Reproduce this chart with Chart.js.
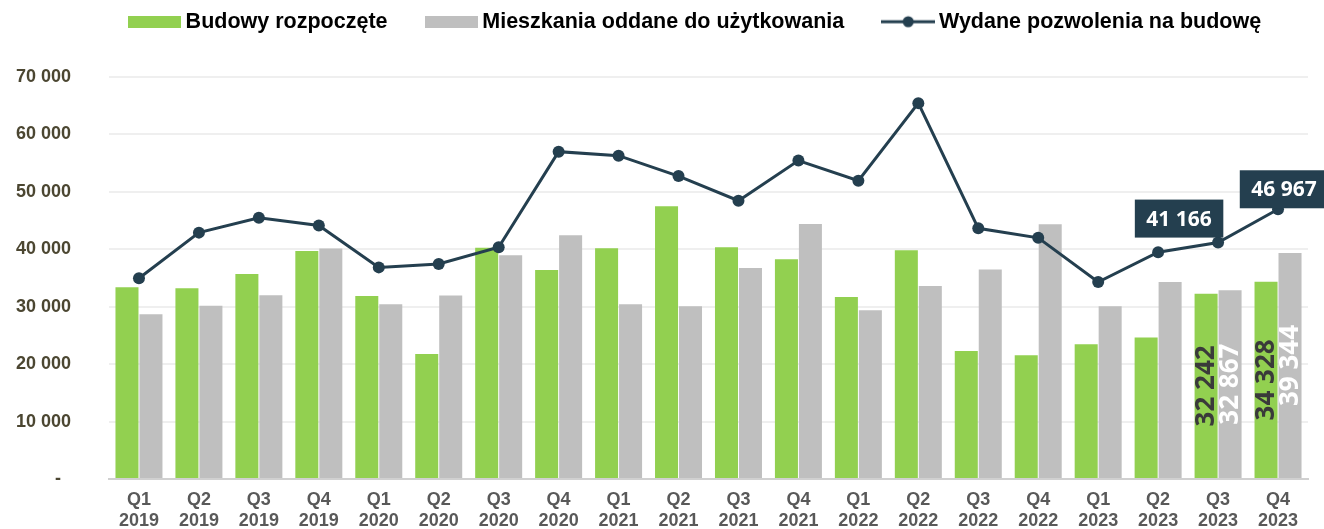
<!DOCTYPE html>
<html lang="pl">
<head>
<meta charset="utf-8">
<title>Budowy rozpoczęte, mieszkania oddane, pozwolenia</title>
<script src="https://cdn.jsdelivr.net/npm/chart.js@4.4.0/dist/chart.umd.min.js"></script>
<style>
    html, body { margin: 0; padding: 0; background: #ffffff; }
    canvas { display: block; }
</style>
</head>
<body>
<canvas id="wykres" width="1324" height="529"></canvas>
<script>
// dane (kwartalnie, 2019-2023)
const kwartaly = ['Q1', 'Q2', 'Q3', 'Q4', 'Q1', 'Q2', 'Q3', 'Q4', 'Q1', 'Q2', 'Q3', 'Q4', 'Q1', 'Q2', 'Q3', 'Q4', 'Q1', 'Q2', 'Q3', 'Q4'];
const lata = ['2019', '2019', '2019', '2019', '2020', '2020', '2020', '2020', '2021', '2021', '2021', '2021', '2022', '2022', '2022', '2022', '2023', '2023', '2023', '2023'];
const budowyRozpoczete = [33400, 33200, 35700, 39700, 31850, 21750, 40250, 36400, 40200, 47500, 40350, 38250, 31700, 39850, 22300, 21550, 23450, 24650, 32242, 34328];
const mieszkaniaOddane = [28700, 30150, 32000, 40150, 30450, 31950, 38950, 42450, 30450, 30100, 36750, 44400, 29400, 33600, 36500, 44350, 30100, 34300, 32867, 39344];
const pozwolenia = [34950, 42900, 45500, 44150, 36850, 37450, 40350, 57000, 56300, 52750, 48450, 55450, 51950, 65450, 43650, 42000, 34300, 39500, 41166, 46967];
const osY = { min: 0, max: 70000, krok: 10000 };
const podpisaneKwartaly = [18, 19]; // Q3 i Q4 2023

const ZIELONY = '#92d050';
const SZARY = '#bfbfbf';
const GRANAT = '#243f4f';

function formatuj(v) {
    return String(Math.round(v)).replace(/\B(?=(\d{3})+(?!\d))/g, ' ');
}

function ikonaProstokat(kolor) {
    const c = document.createElement('canvas');
    c.width = 53; c.height = 12;
    const g = c.getContext('2d');
    g.fillStyle = kolor;
    g.fillRect(0, 0, 53, 12);
    return c;
}

function ikonaLinia(kolor) {
    const c = document.createElement('canvas');
    c.width = 54; c.height = 14;
    const g = c.getContext('2d');
    g.strokeStyle = kolor;
    g.lineWidth = 3;
    g.beginPath(); g.moveTo(0, 7); g.lineTo(54, 7); g.stroke();
    g.fillStyle = kolor;
    g.beginPath(); g.arc(27, 7, 5.5, 0, Math.PI * 2); g.fill();
    return c;
}

const ikonyLegendy = [ikonaProstokat(ZIELONY), ikonaProstokat(SZARY), ikonaLinia(GRANAT)];

// podpisy: pionowe na słupkach i ramki przy linii
const podpisyPlugin = {
    id: 'podpisy',
    beforeLayout(chart) {
        const legenda = chart.legend;
        if (legenda && !legenda._poprawiona) {
            const staryFit = legenda.fit;
            legenda.fit = function() {
                staryFit.call(this);
                this.height = 77;
            };
            legenda._poprawiona = true;
        }
    },
    afterLayout(chart) {
        const legenda = chart.legend;
        legenda.left += 36;
        legenda.right += 36;
        legenda.top -= 33;
    },
    afterDatasetsDraw(chart) {
        const ctx = chart.ctx;
        ctx.save();
        // słupki
        [[0, '#3a3a3a'], [1, '#ffffff']].forEach(([ds, kolor]) => {
            const meta = chart.getDatasetMeta(ds);
            podpisaneKwartaly.forEach(i => {
                const el = meta.data[i];
                const wartosc = chart.data.datasets[ds].data[i];
                ctx.save();
                ctx.translate(el.x, (el.y + el.base) / 2);
                ctx.rotate(-Math.PI / 2);
                ctx.font = "bold 26px 'Open Sans', sans-serif";
                ctx.fillStyle = kolor;
                ctx.textAlign = 'center';
                ctx.textBaseline = 'middle';
                ctx.fillText(formatuj(wartosc), 0, 1);
                ctx.restore();
            });
        });
        // ramki przy punktach linii
        const przesuniecia = { 18: [-39, -24], 19: [6, -20] };
        const metaLinii = chart.getDatasetMeta(2);
        podpisaneKwartaly.forEach(i => {
            const el = metaLinii.data[i];
            const [dx, dy] = przesuniecia[i];
            const tekst = formatuj(chart.data.datasets[2].data[i]);
            ctx.font = "bold 21px 'Open Sans', sans-serif";
            const szer = ctx.measureText(tekst).width + 23;
            const wys = 38;
            const cx = el.x + dx;
            const cy = el.y + dy;
            ctx.fillStyle = GRANAT;
            ctx.fillRect(cx - szer / 2, cy - wys / 2, szer, wys);
            ctx.fillStyle = '#ffffff';
            ctx.textAlign = 'center';
            ctx.textBaseline = 'middle';
            ctx.fillText(tekst, cx, cy + 1);
        });
        ctx.restore();
    }
};

Chart.defaults.font.family = "'Liberation Sans', Arial, sans-serif";

const ctx = document.getElementById('wykres').getContext('2d');
const wykres = new Chart(ctx, {
    type: 'bar',
    data: {
        labels: kwartaly.map((q, i) => [q, lata[i]]),
        datasets: [{
            label: 'Budowy rozpoczęte',
            data: budowyRozpoczete,
            backgroundColor: ZIELONY,
            categoryPercentage: 0.8,
            barPercentage: 0.96
        }, {
            label: 'Mieszkania oddane do użytkowania',
            data: mieszkaniaOddane,
            backgroundColor: SZARY,
            categoryPercentage: 0.8,
            barPercentage: 0.96
        }, {
            type: 'line',
            label: 'Wydane pozwolenia na budowę',
            data: pozwolenia,
            borderColor: GRANAT,
            backgroundColor: GRANAT,
            borderWidth: 3,
            pointRadius: 6,
            pointBackgroundColor: GRANAT,
            pointBorderWidth: 0,
            tension: 0,
            order: -1
        }]
    },
    options: {
        responsive: false,
        animation: false,
        layout: { padding: { left: 16, right: 16, top: 0, bottom: 0 } },
        plugins: {
            tooltip: { enabled: false },
            legend: {
                position: 'top',
                labels: {
                    usePointStyle: true,
                    pointStyleWidth: 40,
                    padding: 44,
                    color: '#404040',
                    font: { size: 21.5, weight: 'bold' },
                    generateLabels(chart) {
                        return chart.data.datasets.map((ds, i) => ({
                            text: ds.label,
                            pointStyle: ikonyLegendy[i],
                            fillStyle: ds.backgroundColor,
                            strokeStyle: 'transparent',
                            lineWidth: 0,
                            hidden: false,
                            datasetIndex: i
                        }));
                    }
                }
            }
        },
        scales: {
            x: {
                grid: { display: false, drawTicks: false },
                border: { display: true, color: '#d0d0d0', width: 2 },
                afterFit(skala) { skala.height = 50; },
                ticks: {
                    autoSkip: false,
                    maxRotation: 0,
                    padding: 10,
                    color: '#595959',
                    font: { size: 18, weight: 'bold', lineHeight: 1.2 }
                }
            },
            y: {
                min: osY.min,
                max: osY.max,
                grid: { color: '#efefef', lineWidth: 2, drawTicks: false },
                border: { display: false },
                afterFit(skala) { skala.width = 93; },
                ticks: {
                    stepSize: osY.krok,
                    padding: 38,
                    color: '#4b4631',
                    font: { size: 18, weight: 'bold' },
                    callback: v => v === 0 ? '-  ' : formatuj(v)
                }
            }
        }
    },
    plugins: [podpisyPlugin]
});
</script>
</body>
</html>
